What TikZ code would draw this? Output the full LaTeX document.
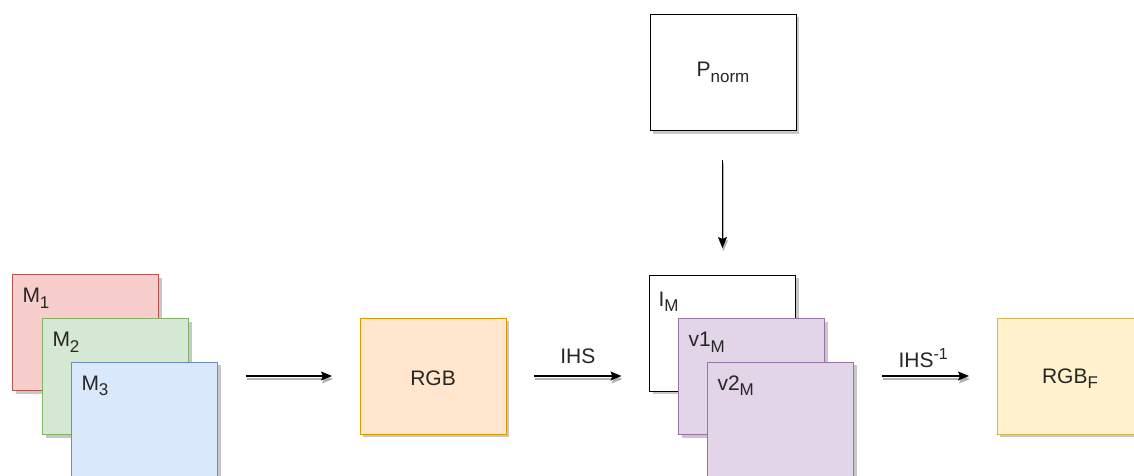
\documentclass[tikz,border=0pt]{standalone}
\usepackage{fontspec}
\setmainfont{Liberation Sans}
\usetikzlibrary{arrows.meta,shadows}
\definecolor{redF}{HTML}{F8CECC}\definecolor{redD}{HTML}{B85450}
\definecolor{greenF}{HTML}{D5E8D4}\definecolor{greenD}{HTML}{82B366}
\definecolor{blueF}{HTML}{DAE8FC}\definecolor{blueD}{HTML}{6C8EBF}
\definecolor{orangeF}{HTML}{FFE6CC}\definecolor{orangeD}{HTML}{D79B00}
\definecolor{yellowF}{HTML}{FFF2CC}\definecolor{yellowD}{HTML}{D6B656}
\definecolor{purpleF}{HTML}{E1D5E7}\definecolor{purpleD}{HTML}{9673A6}
\newcommand\mysub[1]{\raisebox{-0.27em}{\fontsize{17}{20}\selectfont #1}}
\newcommand\mysup[1]{\raisebox{0.38em}{\fontsize{16}{20}\selectfont #1}}
\begin{document}
\begin{tikzpicture}[x=1pt,y=-1pt,
  box/.style={draw, line width=1pt, minimum width=146pt, minimum height=116pt,
    inner sep=0pt, outer sep=0pt,
    drop shadow={shadow xshift=3pt,shadow yshift=-3pt,fill=black,opacity=0.22}},
  txt/.style={font=\fontsize{21}{25}\selectfont, text=black!85, inner sep=0pt, outer sep=0pt},
  arr/.style={line width=1.2pt, -{Stealth[length=11pt,width=9pt,inset=2pt]},
    shorten <=28pt, shorten >=28pt,
    preaction={draw=black!30, line width=1.2pt, transform canvas={xshift=1pt,yshift=-3pt}}}]
\useasboundingbox (0,0) rectangle (1134,476);
\clip (0,0) rectangle (1134,476);
% left stack
\node[box, fill=redF, draw=redD] (m1) at (85.5,332.5) {};
\node[box, fill=greenF, draw=greenD] (m2) at (115.5,376.5) {};
\node[box, fill=blueF, draw=blueD] (m3) at (144.5,420) {};
\node[txt, anchor=base west] (m1t) at ([shift={(10pt,-28pt)}]m1.north west) {M\mysub{1}};
\node[txt, anchor=base west] (m2t) at ([shift={(10pt,-28pt)}]m2.north west) {M\mysub{2}};
\node[txt, anchor=base west] (m3t) at ([shift={(10pt,-28pt)}]m3.north west) {M\mysub{3}};
% RGB
\node[box, fill=orangeF, draw=orangeD] (rgb) at (433,376) {};
\node[txt, anchor=base] (rgbt) at ([yshift=-9pt]rgb.center) {RGB};
% P norm
\node[box, fill=white, draw=black] (p) at (723,72.5) {};
\node[txt, anchor=base] (pt) at ([yshift=-4pt]p.center) {P\mysub{norm}};
% middle stack
\node[box, fill=white, draw=black] (im) at (722.5,333) {};
\node[box, fill=purpleF, draw=purpleD] (v1) at (751.5,376.5) {};
\node[box, fill=purpleF, draw=purpleD] (v2) at (780.5,420) {};
\node[txt, anchor=base west] (imt) at ([shift={(9pt,-31pt)}]im.north west) {I\mysub{M}};
\node[txt, anchor=base west] (v1t) at ([shift={(10pt,-28pt)}]v1.north west) {v1\mysub{M}};
\node[txt, anchor=base west] (v2t) at ([shift={(10pt,-28pt)}]v2.north west) {v2\mysub{M}};
% RGB_F
\node[box, fill=yellowF, draw=yellowD] (rgbf) at (1070,376) {};
\node[txt, anchor=base] (rgbft) at ([yshift=-7pt]rgbf.center) {RGB\mysub{F}};
% arrows
\draw[arr] (m3.east |- rgb.west) -- (rgb.west);
\draw[arr] (rgb.east) -- (rgb.east -| im.west)
  node[txt, midway, anchor=base, yshift=13pt] (ihs) {IHS};
\draw[arr, shorten <=29pt, shorten >=27pt] (p.south -| im.north) -- (im.north);
\draw[arr] (v2.east |- rgbf.west) -- (rgbf.west)
  node[txt, midway, anchor=base, yshift=9pt, xshift=-2pt] (ihsi) {IHS\mysup{-1}};
\end{tikzpicture}
\end{document}
